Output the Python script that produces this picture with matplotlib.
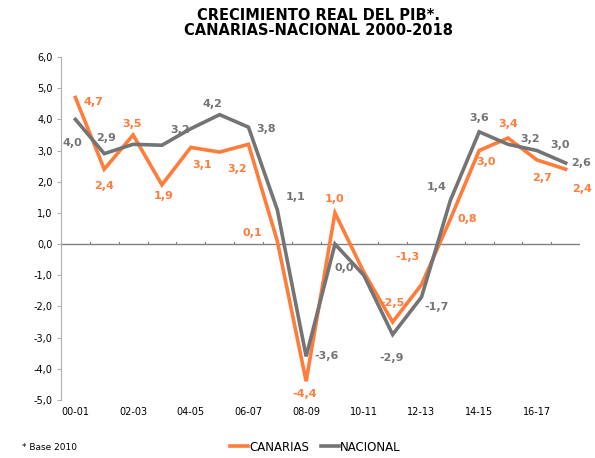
import matplotlib.pyplot as plt
from matplotlib.lines import Line2D

periods = ['00-01', '01-02', '02-03', '03-04', '04-05', '05-06', '06-07', '07-08', '08-09',
           '09-10', '10-11', '11-12', '12-13', '13-14', '14-15', '15-16', '16-17', '17-18']
canarias = [4.7, 2.4, 3.5, 1.9, 3.1, 2.95, 3.2, 0.1, -4.4, 1.0, -0.9, -2.5, -1.3, 0.8, 3.0, 3.4, 2.7, 2.4]
nacional = [4.0, 2.9, 3.2, 3.17, 3.7, 4.15, 3.75, 1.1, -3.6, 0.0, -1.0, -2.9, -1.7, 1.4, 3.6, 3.2, 3.0, 2.6]
# which points carry a value label
canarias_shown = [1, 1, 1, 1, 1, 0, 1, 1, 1, 1, 0, 1, 1, 1, 1, 1, 1, 1]
nacional_shown = [1, 1, 0, 1, 0, 1, 1, 1, 1, 1, 0, 1, 1, 1, 1, 1, 1, 1]

ORANGE = '#FF7C3A'
GREY = '#747474'

# label offsets in points (dx, dy)
off_c = [(13, -3), (0, -12), (-1, 8), (1, -8), (8, -13), (0, 0), (-8, -18), (-18, 6), (-1, -9),
         (0, 10), (0, 0), (0, 14), (-10, 20), (12, 0), (5, -8), (0, 10), (4, -13), (12, -14)]
off_n = [(-2, -17), (1, 11), (0, 0), (13, 11), (0, 0), (-5, 8), (13, -1), (13, 9), (15, 0),
         (7, -17), (0, 0), (-1, -17), (11, -7), (-10, 10), (0, 10), (16, 4), (17, 4), (11, 0)]

fig = plt.figure(figsize=(5.95, 4.58), dpi=100)
ax = fig.add_axes([0.1025, 0.1266, 0.8725, 0.749])

x = list(range(len(periods)))
ax.plot(x, canarias, color=ORANGE, lw=2.6, solid_joinstyle='miter')
ax.plot(x, nacional, color=GREY, lw=2.6, solid_joinstyle='miter')

def fmt(v):
    return ('%.1f' % v).replace('.', ',')

for i in x:
    if canarias_shown[i]:
        ax.annotate(fmt(canarias[i]), (i, canarias[i]), xytext=off_c[i], textcoords='offset points',
                    ha='center', va='center', color=ORANGE, fontsize=8, fontweight='bold')
    if nacional_shown[i]:
        ax.annotate(fmt(nacional[i]), (i, nacional[i]), xytext=off_n[i], textcoords='offset points',
                    ha='center', va='center', color=GREY, fontsize=8, fontweight='bold')

ax.set_xlim(-0.5, len(periods) - 0.5)
ax.set_ylim(-5, 6)
ax.set_yticks(range(-5, 7))
ax.set_yticklabels([fmt(v) for v in range(-5, 7)], fontsize=7)
ax.set_xticks(x[::2])
ax.set_xticklabels(periods[::2], fontsize=7)
ax.tick_params(axis='x', length=0, pad=5)
ax.tick_params(axis='y', length=3, color='#B0B0B0', pad=3)

for s in ['top', 'right', 'bottom']:
    ax.spines[s].set_visible(False)
ax.spines['left'].set_color('#B0B0B0')
ax.axhline(0, color='#808080', lw=1, zorder=0)
for b in range(1, len(periods)):
    ax.plot([b - 0.5, b - 0.5], [0, 0.08], color='#808080', lw=0.8, zorder=0)

fig.text(0.535, 0.95, 'CRECIMIENTO REAL DEL PIB*.\nCANARIAS-NACIONAL 2000-2018', ha='center', va='center',
         fontsize=10.5, fontweight='bold', linespacing=1.0)
fig.text(0.037, 0.024, '* Base 2010', fontsize=6.5, va='center')

handles = [Line2D([], [], color=ORANGE, lw=2.6), Line2D([], [], color=GREY, lw=2.6)]
fig.legend(handles, ['CANARIAS', 'NACIONAL'], loc='center', bbox_to_anchor=(0.53, 0.024), ncol=2,
           frameon=False, fontsize=8.5, handlelength=1.5, handletextpad=0.1, columnspacing=1.0)

fig.savefig('out.png', dpi=100)
